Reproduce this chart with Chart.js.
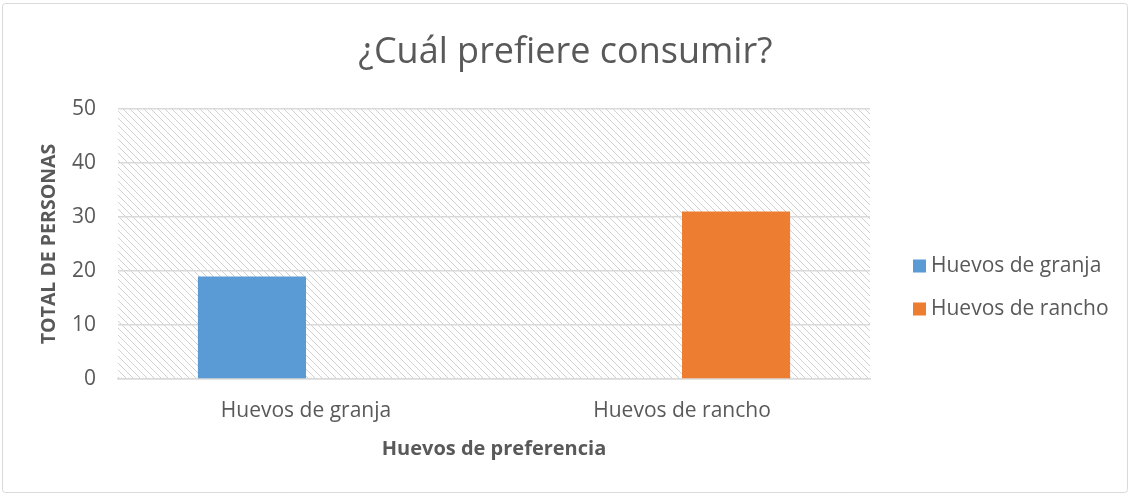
<!DOCTYPE html>
<html>
<head>
<meta charset="utf-8">
<script src="https://cdn.jsdelivr.net/npm/chart.js@4.4.1/dist/chart.umd.min.js"></script>
<style>
html,body{margin:0;padding:0;background:#fff;}
#wrap{position:relative;width:1131px;height:495px;}
</style>
</head>
<body>
<div id="wrap"><canvas id="c" width="1131" height="495"></canvas></div>
<script>
const categories = ["Huevos de granja", "Huevos de rancho"];
const seriesNames = ["Huevos de granja", "Huevos de rancho"];
const granjaValues = [19, null];
const ranchoValues = [null, 31];
const yTicks = [0, 10, 20, 30, 40, 50];
const titleText = "¿Cuál prefiere consumir?";
const xTitle = "Huevos de preferencia";
const yTitle = "TOTAL DE PERSONAS";

const FONT = "'Open Sans'";
const TXT = "#595959";

function makeHatch() {
  const p = document.createElement('canvas');
  const n = 7;
  p.width = n; p.height = n;
  const g = p.getContext('2d');
  g.fillStyle = '#fff';
  g.fillRect(0, 0, n, n);
  g.fillStyle = '#d0d0d0';
  for (let i = 0; i < n; i++) g.fillRect(i, i, 1, 1);
  return p;
}

const bgPlugin = {
  id: 'bg',
  beforeDraw(chart) {
    const ctx = chart.ctx;
    const a = chart.chartArea;
    ctx.save();
    ctx.fillStyle = '#fff';
    ctx.fillRect(0, 0, chart.width, chart.height);
    ctx.strokeStyle = '#d9d9d9';
    ctx.lineWidth = 1;
    ctx.beginPath();
    if (ctx.roundRect) ctx.roundRect(2.5, 3.5, 1125, 489, 3);
    else ctx.rect(2.5, 3.5, 1125, 489);
    ctx.stroke();
    const pat = ctx.createPattern(makeHatch(), 'repeat');
    ctx.fillStyle = pat;
    ctx.fillRect(a.left, a.top, a.right - a.left, a.bottom - a.top);
    ctx.restore();
  }
};

const legendPlugin = {
  id: 'customLegend',
  afterDraw(chart) {
    const ctx = chart.ctx;
    ctx.save();
    ctx.font = "21px " + FONT;
    ctx.textBaseline = 'middle';
    ctx.textAlign = 'left';
    const x0 = 913;
    const ys = [266, 309];
    chart.data.datasets.forEach((ds, i) => {
      ctx.fillStyle = ds.backgroundColor;
      ctx.fillRect(x0, ys[i] - 6.5, 13, 13);
      ctx.fillStyle = TXT;
      ctx.fillText(ds.label, x0 + 18, ys[i]);
    });
    ctx.restore();
  }
};

new Chart(document.getElementById('c'), {
  type: 'bar',
  data: {
    labels: categories,
    datasets: [
      { label: seriesNames[0], data: granjaValues, backgroundColor: '#5B9BD5', categoryPercentage: 0.575, barPercentage: 1.0, skipNull: false },
      { label: seriesNames[1], data: ranchoValues, backgroundColor: '#ED7D31', categoryPercentage: 0.575, barPercentage: 1.0, skipNull: false }
    ]
  },
  options: {
    responsive: false,
    animation: false,
    devicePixelRatio: 1,
    layout: { padding: { left: 0, right: 0, top: 0, bottom: 34 } },
    plugins: {
      legend: { display: false },
      tooltip: { enabled: false },
      title: {
        display: true,
        text: titleText,
        color: TXT,
        font: { family: FONT, size: 36, weight: 'normal' },
        padding: { top: 31, bottom: 34.8 }
      }
    },
    scales: {
      x: {
        afterFit(s) { s.height = 82; },
        grid: { display: false, drawTicks: false },
        border: { display: true, color: '#d9d9d9', width: 1.5 },
        ticks: { color: TXT, font: { family: FONT, size: 21 }, padding: 19 },
        title: { display: true, text: xTitle, color: TXT, font: { family: FONT, size: 20, weight: 'bold' }, padding: { top: 0, bottom: 0 } }
      },
      y: {
        min: 0, max: 50,
        afterFit(s) { s.width = 118; },
        afterBuildTicks(s) { s.ticks = yTicks.map(v => ({ value: v })); },
        grid: { color: '#d9d9d9', lineWidth: 1.5, drawTicks: false },
        border: { display: false },
        ticks: { color: TXT, font: { family: FONT, size: 21 }, padding: 22 },
        title: { display: true, text: yTitle, color: TXT, font: { family: FONT, size: 19.5, weight: 'bold' }, padding: { top: 38, bottom: 0 } }
      },
      legendSpace: {
        type: 'linear',
        position: 'right',
        display: true,
        afterFit(s) { s.width = 261; },
        grid: { display: false, drawTicks: false },
        border: { display: false },
        ticks: { display: false }
      }
    }
  },
  plugins: [bgPlugin, legendPlugin]
});
</script>
</body>
</html>
